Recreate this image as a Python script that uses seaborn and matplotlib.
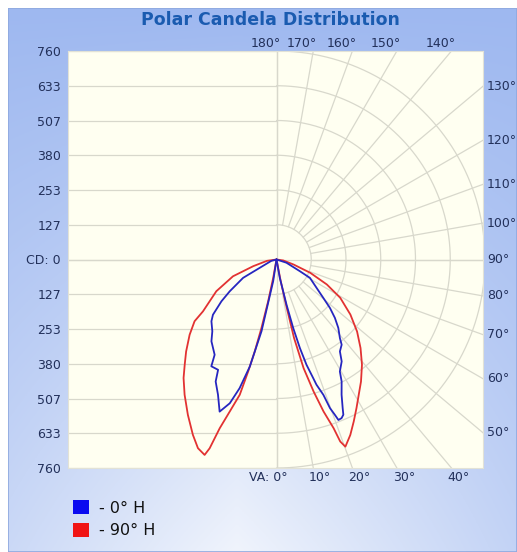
import numpy as np
import pandas as pd
import matplotlib
matplotlib.use('Agg')
import matplotlib.pyplot as plt
import seaborn as sns
from matplotlib.patches import Patch, Rectangle

# candela readings per lobe, va = vertical angle from nadir (deg)
blue_left_va = [0, 8.7, 11.8, 14.0, 16.0, 18.0, 20.5, 23.4, 26.5, 27.9, 31.4, 33.0, 38.5,
                41.8, 46.5, 49.0, 52.8, 55.8, 61.2, 63.6, 75, 90]
blue_left_cd = [0, 80, 267, 402, 488, 551, 592, 537, 497, 455, 456, 414, 381,
                351, 327, 307, 252, 206, 139, 68, 20, 0]

blue_right_va = [0, 10.2, 12.5, 13.7, 14.8, 15.9, 17.2, 17.7, 19.1, 19.8, 20.6, 21.1, 22.3,
                 23.3, 24.0, 25.7, 28.1, 29.5, 32.6, 34.6, 37.4, 38.9, 42.1, 45.0, 47.8,
                 50.6, 54.7, 61.2, 63.4, 72, 90]
blue_right_cd = [0, 68, 168, 257, 334, 399, 453, 479, 522, 576, 605, 627, 625,
                 616, 593, 547, 504, 469, 441, 407, 391, 368, 336, 301, 263,
                 221, 179, 139, 95, 38, 0]

red_left_va = [0, 10.2, 11.3, 12.4, 13.3, 14.2, 15.2, 17.1, 18.6, 19.5, 20.2, 22.6, 25.5,
               29.7, 34.2, 38.1, 41.1, 44.5, 49.1, 53.0, 54.8, 62.2, 68.9, 74, 82, 90]
red_left_cd = [0, 68, 155, 256, 344, 421, 511, 580, 649, 730, 759, 745, 708,
               652, 596, 549, 509, 470, 419, 374, 328, 248, 170, 88, 35, 0]

red_right_va = [0, 11.0, 12.0, 12.6, 14.0, 15.7, 17.2, 18.7, 19.3, 20.2, 22.8, 25.5, 28.3,
                31.3, 34.7, 39.1, 43.5, 48.2, 53.3, 59.0, 63.6, 68.5, 73.6, 82, 90]
red_right_cd = [0, 81, 180, 293, 408, 500, 580, 649, 703, 727, 694, 654, 615,
                577, 541, 494, 445, 394, 336, 271, 205, 132, 65, 25, 0]

cd_ticks = ['760', '633', '507', '380', '253', '127', 'CD: 0',
            '127', '253', '380', '507', '633', '760']
top_angles = [180, 170, 160, 150, 140]
right_angles = [130, 120, 110, 100, 90, 80, 70, 60, 50]
bottom_angles = [0, 10, 20, 30, 40]

CD_MAX = 760
W, H = 517, 552


def lobe(va, cd, side, plane, name):
    a = np.radians(va)
    r = np.array(cd, dtype=float)
    return pd.DataFrame({'x': side * r * np.sin(a), 'y': -r * np.cos(a),
                         'plane': plane, 'lobe': name})


df = pd.concat([
    lobe(red_left_va, red_left_cd, -1, '90° H', 'rl'),
    lobe(red_right_va, red_right_cd, 1, '90° H', 'rr'),
    lobe(blue_left_va, blue_left_cd, -1, '0° H', 'bl'),
    lobe(blue_right_va, blue_right_cd, 1, '0° H', 'br'),
], ignore_index=True)

sns.set_style('white')
plt.rcParams['font.family'] = ['DejaVu Sans']

fig = plt.figure(figsize=(W / 100, H / 100), dpi=100)
fig.patch.set_facecolor('white')

# blue gradient panel behind everything
bg = fig.add_axes([8 / W, 0, 1 - 8 / W, 1 - 8 / H], zorder=-5)
gx, gy = np.meshgrid(np.linspace(0, 1, 300), np.linspace(0, 1, 300))
w = np.clip(1 - gy * (1 - 1.0 * np.abs(gx - 0.45)), 0, 1)
light = np.array([240, 244, 252]) / 255
dark = np.array([158, 184, 240]) / 255
img = light[None, None, :] * (1 - w[..., None]) + dark[None, None, :] * w[..., None]
bg.imshow(img, aspect='auto', extent=(0, 1, 1, 0))
bg.set_xlim(0, 1)
bg.set_ylim(1, 0)
bg.axis('off')
bg.add_patch(Rectangle((0, 0), 1, 1, transform=bg.transAxes, fill=False,
                       edgecolor='#8fa9df', lw=1.2))

ax = fig.add_axes([68 / W, 1 - 468 / H, 415 / W, 417 / H])
ax.set_facecolor('#fffff1')
xr = CD_MAX * (483 - 277) / 208.0
ax.set_xlim(-CD_MAX, xr)
ax.set_ylim(-CD_MAX, CD_MAX)

grid_c = '#d8d8cc'
tick_pos = np.linspace(CD_MAX, -CD_MAX, 13)
# left half: horizontal lines
ax.hlines(tick_pos, -CD_MAX, 0, color=grid_c, lw=0.9, zorder=1)
ax.axvline(0, color=grid_c, lw=0.9, zorder=1)
ax.axhline(0, color=grid_c, lw=0.9, zorder=1)
# right half: arcs and radial lines
th = np.linspace(-np.pi / 2, np.pi / 2, 300)
for r in np.linspace(CD_MAX / 6, CD_MAX, 6):
    ax.plot(r * np.cos(th), r * np.sin(th), color=grid_c, lw=0.9, zorder=1)
for va in range(0, 181, 10):
    a = np.radians(va)
    rr = np.array([CD_MAX / 6, 3000])
    ax.plot(rr * np.sin(a), -rr * np.cos(a), color=grid_c, lw=0.9, zorder=1)

sns.lineplot(data=df, x='x', y='y', hue='plane', units='lobe', estimator=None,
             sort=False, hue_order=['90° H', '0° H'],
             palette={'90° H': '#e23232', '0° H': '#2626c0'},
             linewidth=1.3, legend=False, ax=ax, zorder=3)

for s in ax.spines.values():
    s.set_color('#e2e2d6')
    s.set_linewidth(0.8)

txt_c = '#22305a'
ax.set_xticks([])
ax.set_yticks(tick_pos)
ax.set_yticklabels(cd_ticks, fontsize=9, color=txt_c)
ax.tick_params(axis='y', length=0, pad=5)
ax.set_xlabel('')
ax.set_ylabel('')

px = CD_MAX / 208.0  # data units per pixel
for va in top_angles:
    xe = CD_MAX * np.tan(np.radians(180 - va))
    ax.text(xe + 4 * px, CD_MAX + 7 * px, f'{va}°', ha='right', va='center',
            fontsize=9, color=txt_c, clip_on=False)
for va in right_angles:
    ye = xr * np.tan(np.radians(va - 90))
    ax.text(xr + 4 * px, ye, f'{va}°', ha='left', va='center',
            fontsize=9, color=txt_c, clip_on=False)
for va in bottom_angles:
    xe = CD_MAX * np.tan(np.radians(va))
    if va == 0:
        ax.text(xe + 11 * px, -CD_MAX - 9 * px, f'VA: {va}°', ha='right', va='center',
                fontsize=9, color=txt_c, clip_on=False)
    else:
        ax.text(xe + 7 * px, -CD_MAX - 9 * px, f'{va}°', ha='center', va='center',
                fontsize=9, color=txt_c, clip_on=False)

fig.text(270 / W, 1 - 20 / H, 'Polar Candela Distribution', ha='center', va='center',
         fontsize=12.5, fontweight='bold', color='#1a5bb0')

handles = [Patch(facecolor='#0a0af0', edgecolor='none'),
           Patch(facecolor='#f01414', edgecolor='none')]
fig.legend(handles, ['- 0° H', '- 90° H'], loc='upper left',
           bbox_to_anchor=(65 / W, 1 - 492 / H), frameon=False, fontsize=11.5,
           handlelength=1.0, handleheight=1.0, handletextpad=0.6,
           labelspacing=0.45, borderpad=0, labelcolor='#111111')

fig.savefig('out.png', dpi=100)
